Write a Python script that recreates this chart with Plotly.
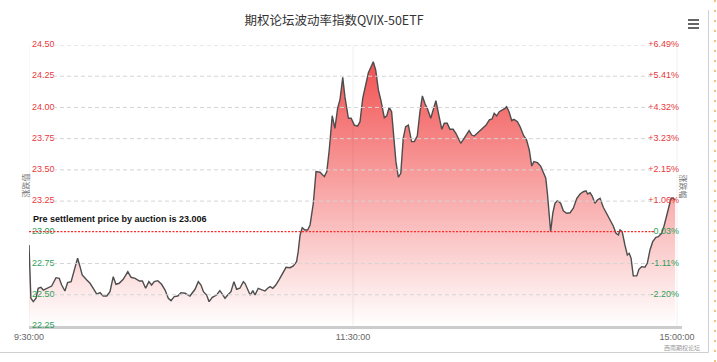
import plotly.graph_objects as go

# ---------------- data ----------------
title_text = "期权论坛波动率指数QVIX-50ETF"
pre_settle = 23.006
annotation_text = "Pre settlement price by auction is 23.006"

# minutes elapsed in the trading session (9:30-11:30, 13:00-15:00 joined)
minutes = [
    0.0, 0.7, 1.6, 2.6, 3.4, 4.4, 5.3, 6.6, 8.4, 10.0, 11.2, 12.1, 13.3, 14.3, 15.6,
    16.8, 18.0, 18.9, 19.7, 21.4, 22.6, 23.8, 25.1, 26.3, 27.5, 28.8, 30.0, 31.2, 32.2,
    33.4, 34.9, 36.6, 37.8, 39.3, 40.9, 42.0, 43.2, 44.4, 45.4, 46.4, 47.7, 49.1, 50.4,
    51.6, 52.6, 53.8, 55.1, 56.3, 57.8, 59.6, 61.5, 62.7, 63.7, 64.6, 65.8, 66.7, 67.9,
    69.5, 70.7, 71.6, 72.6, 73.6, 74.8, 75.9, 76.9, 78.1, 79.4, 80.0, 81.0, 81.9, 82.9,
    83.7, 84.9, 86.2, 87.4, 88.4, 89.3, 90.3, 91.4, 92.7, 94.0, 95.2, 96.7, 97.9, 99.1,
    99.7, 100.4, 101.2, 102.2, 103.2, 104.1, 105.3, 106.3, 107.8, 109.4, 110.3, 111.2,
    112.3, 113.3, 114.3, 115.2, 116.2, 117.0, 118.3, 119.3, 120.5, 121.7, 122.6, 123.6,
    124.7, 125.7, 126.7, 127.5, 128.4, 129.4, 130.3, 131.6, 132.5, 133.4, 134.3, 135.2,
    135.9, 136.8, 137.7, 138.6, 139.5, 140.5, 141.7, 142.7, 143.8, 144.8, 145.7, 146.7,
    147.5, 148.8, 149.7, 150.7, 151.9, 152.9, 153.8, 154.9, 155.9, 157.1, 158.1, 159.0,
    159.9, 160.9, 162.1, 163.0, 164.0, 164.9, 166.0, 167.7, 169.3, 170.5, 171.5, 172.3,
    173.2, 174.2, 175.4, 176.3, 176.9, 177.8, 178.8, 179.6, 180.9, 181.9, 183.1, 184.3,
    185.3, 186.2, 187.0, 188.3, 189.5, 190.5, 191.4, 192.0, 192.6, 193.2, 194.0, 194.8,
    195.7, 196.9, 197.9, 199.1, 200.4, 201.6, 202.9, 204.1, 205.3, 206.3, 206.9, 207.8,
    208.6, 209.6, 210.5, 211.5, 212.7, 214.0, 215.2, 216.4, 217.4, 218.3, 218.9, 219.7,
    220.7, 221.6, 222.3, 223.0, 223.8, 225.1, 225.9, 226.9, 228.1, 229.0, 230.0, 231.0,
    232.2, 233.1, 234.3, 235.2, 236.4, 237.4, 237.8, 238.6, 239.3,
]

qvix = [
    22.899, 22.472, 22.445, 22.472, 22.552, 22.560, 22.538, 22.552, 22.570, 22.637, 22.632,
    22.578, 22.530, 22.597, 22.605, 22.699, 22.792, 22.725, 22.659, 22.618, 22.592, 22.552,
    22.506, 22.517, 22.490, 22.490, 22.525, 22.645, 22.584, 22.592, 22.624, 22.685, 22.640,
    22.632, 22.610, 22.610, 22.552, 22.605, 22.578, 22.605, 22.613, 22.584, 22.538, 22.472,
    22.453, 22.485, 22.490, 22.517, 22.512, 22.490, 22.544, 22.605, 22.578, 22.525, 22.498,
    22.445, 22.480, 22.498, 22.533, 22.506, 22.472, 22.498, 22.525, 22.605, 22.544, 22.552,
    22.605, 22.592, 22.538, 22.498, 22.533, 22.498, 22.552, 22.538, 22.530, 22.552, 22.565,
    22.552, 22.578, 22.624, 22.677, 22.720, 22.717, 22.731, 22.765, 22.845, 22.979, 23.037,
    23.019, 23.019, 23.059, 23.233, 23.486, 23.481, 23.446, 23.486, 23.659, 23.934, 23.833,
    23.993, 24.065, 24.241, 24.086, 23.913, 23.913, 23.859, 23.851, 23.886, 24.073, 24.193,
    24.278, 24.326, 24.366, 24.300, 24.140, 24.060, 23.918, 23.932, 24.001, 23.966, 23.699,
    23.566, 23.441, 23.473, 23.753, 23.846, 23.859, 23.726, 23.726, 23.771, 23.966, 24.092,
    24.028, 23.993, 23.913, 23.980, 24.054, 23.926, 23.825, 23.873, 23.873, 23.825, 23.825,
    23.793, 23.745, 23.713, 23.745, 23.785, 23.814, 23.779, 23.771, 23.793, 23.827, 23.859,
    23.900, 23.908, 23.953, 23.932, 23.966, 23.980, 23.993, 24.006, 23.966, 23.894, 23.905,
    23.886, 23.846, 23.779, 23.739, 23.659, 23.531, 23.566, 23.558, 23.531, 23.486, 23.433,
    23.313, 23.153, 23.005, 23.153, 23.233, 23.253, 23.233, 23.173, 23.153, 23.157, 23.193,
    23.273, 23.307, 23.325, 23.333, 23.307, 23.317, 23.291, 23.233, 23.259, 23.273, 23.201,
    23.147, 23.099, 23.051, 22.992, 22.979, 23.019, 23.005, 22.899, 22.819, 22.832, 22.792,
    22.651, 22.651, 22.704, 22.725, 22.720, 22.752, 22.859, 22.925, 22.960, 22.965, 22.992,
    23.051, 23.153, 23.245, 23.273, 23.273, 23.259,
]

x_tick_vals = [0, 120, 240]
x_tick_text = ["9:30:00", "11:30:00", "15:00:00"]
left_ticks = [24.50, 24.25, 24.00, 23.75, 23.50, 23.25, 23.00, 22.75, 22.50, 22.25]
right_ticks = [24.50, 24.25, 24.00, 23.75, 23.50, 23.25, 23.00, 22.75, 22.50]
right_tick_text = ["+6.49%", "+5.41%", "+4.32%", "+3.23%", "+2.15%", "+1.06%",
                   "-0.03%", "-1.11%", "-2.20%"]
left_title = "涨跌值"
right_title = "涨跌幅"
credit_text = "西南期权论坛"

# ---------------- styling / layout geometry ----------------
W, H = 717, 362
L, R, T, B = 29, 682, 45, 326
X_MAX = 241.85
RED = "#e8383d"
GREEN = "#2e9e5b"


def fx(p):
    return (p - L) / (R - L)


def fy(p):
    return (B - p) / (B - T)


def colored(text, val):
    c = RED if val > pre_settle else GREEN
    return f'<span style="color:{c}">{text}</span>'


left_text = [colored(f"{v:.2f}", v) for v in left_ticks]
right_text = [colored(t, v) for t, v in zip(right_tick_text, right_ticks)]

fig = go.Figure()
fig.add_trace(go.Scatter(
    x=minutes, y=qvix, mode="lines",
    line=dict(color="#4d4d4d", width=1.4),
    fill="tozeroy",
    fillgradient=dict(type="vertical",
                      colorscale=[[0, "rgb(255,255,255)"], [1, "rgb(242,82,82)"]],
                      start=left_ticks[-1], stop=max(qvix)),
    hoverinfo="skip", showlegend=False,
))
# invisible companion trace so that the right-hand percentage axis is drawn
fig.add_trace(go.Scatter(
    x=minutes, y=qvix, yaxis="y2", mode="lines",
    line=dict(color="rgba(0,0,0,0)", width=0),
    hoverinfo="skip", showlegend=False,
))

shapes = []
# dashed horizontal grid lines (the pre-settlement line replaces the one at 23.00)
for v in left_ticks[:-1]:
    if abs(v - pre_settle) < 0.05:
        continue
    shapes.append(dict(type="line", xref="paper", yref="y", x0=fx(53), x1=fx(651),
                       y0=v, y1=v, layer="above",
                       line=dict(color="#d4d4d4", width=1, dash="4px,3px")))
# faint vertical grid lines at time ticks
for v in x_tick_vals:
    shapes.append(dict(type="line", xref="x", yref="paper", x0=v, x1=v, y0=0, y1=1,
                       layer="above", line=dict(color="rgba(0,0,0,0.06)", width=1)))
# pre-settlement dotted line
shapes.append(dict(type="line", xref="paper", yref="y", x0=0, x1=fx(655),
                   y0=pre_settle, y1=pre_settle, layer="above",
                   line=dict(color="#ff2a2a", width=1.3, dash="2px,1.5px")))
# menu icon
for py in (20, 24, 28):
    shapes.append(dict(type="line", xref="paper", yref="paper", x0=fx(688), x1=fx(699),
                       y0=fy(py), y1=fy(py), line=dict(color="#666666", width=2)))
# container borders
shapes.append(dict(type="line", xref="paper", yref="paper", x0=fx(708.5), x1=fx(708.5),
                   y0=fy(10), y1=fy(352.5), line=dict(color="#d0d0d0", width=1)))
shapes.append(dict(type="line", xref="paper", yref="paper", x0=fx(0), x1=fx(708.5),
                   y0=fy(352.5), y1=fy(352.5), line=dict(color="#d0d0d0", width=1)))
shapes.append(dict(type="line", xref="paper", yref="paper", x0=fx(715), x1=fx(715),
                   y0=fy(0), y1=fy(362), line=dict(color="#f3b04a", width=1.5, dash="2px,8px")))

annotations = [
    dict(x=minutes[0], y=pre_settle, xref="x", yref="y", text=annotation_text,
         showarrow=False, xanchor="left", yanchor="middle", xshift=2, yshift=13,
         font=dict(family="Liberation Sans", size=9, color="#111111", weight="bold")),
    dict(x=fx(17), y=fy(186), xref="paper", yref="paper", text=left_title,
         showarrow=False, textangle=-90,
         font=dict(family="Noto Sans CJK SC", size=8, color="#777777")),
    dict(x=fx(691), y=fy(186), xref="paper", yref="paper", text=right_title,
         showarrow=False, textangle=90,
         font=dict(family="Noto Sans CJK SC", size=8, color="#777777")),
    dict(x=fx(702), y=fy(347), xref="paper", yref="paper", text=credit_text,
         showarrow=False, xanchor="right", yanchor="middle",
         font=dict(family="Noto Sans CJK SC", size=6, color="#999999")),
]

fig.update_layout(
    width=W, height=H,
    margin=dict(l=L, r=W - R, t=T, b=H - B, pad=0),
    paper_bgcolor="white", plot_bgcolor="white",
    title=dict(text=title_text, x=334 / W, xref="container", xanchor="center",
               y=1 - 21 / H, yref="container", yanchor="middle",
               font=dict(family="Noto Sans CJK SC", size=12.5, color="#333333")),
    xaxis=dict(range=[0, X_MAX], tickvals=x_tick_vals, ticktext=x_tick_text,
               showgrid=False, zeroline=False, showline=True, linecolor="#cccccc",
               linewidth=2.5, ticks="", ticklabelstandoff=0,
               tickfont=dict(family="Liberation Sans", size=9, color="#666666")),
    yaxis=dict(range=[left_ticks[-1], left_ticks[0]], tickvals=left_ticks,
               ticktext=left_text, ticklabelposition="inside", ticks="",
               showgrid=False, zeroline=False, showline=False,
               ticklabeloverflow="allow", ticklabelshift=-1,
               tickfont=dict(family="Liberation Sans", size=9)),
    yaxis2=dict(range=[left_ticks[-1], left_ticks[0]], overlaying="y", side="right",
                tickvals=right_ticks, ticktext=right_text, ticklabelposition="inside",
                ticks="", showgrid=False, zeroline=False, showline=False,
                ticklabeloverflow="allow", ticklabelshift=-1,
                tickfont=dict(family="Liberation Sans", size=9)),
    shapes=shapes, annotations=annotations,
)

fig.write_html("out.html")
